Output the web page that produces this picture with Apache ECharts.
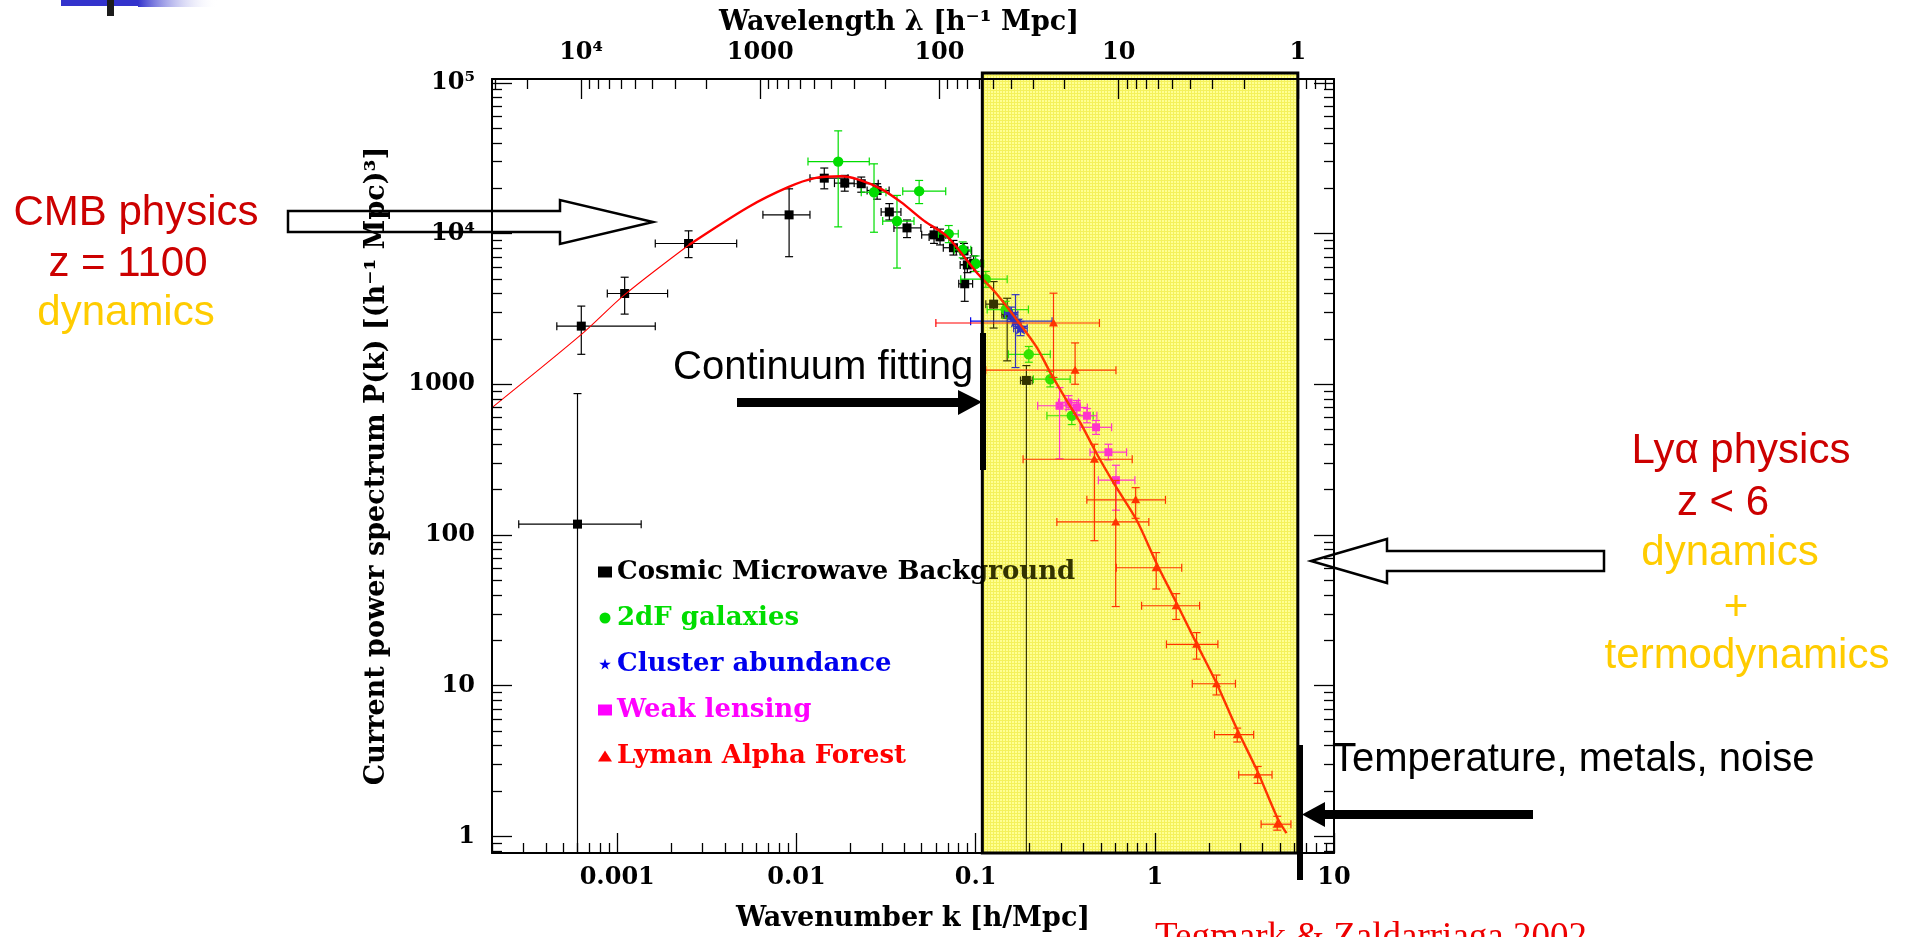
<!DOCTYPE html>
<html>
<head>
<meta charset="utf-8">
<script src="https://cdn.jsdelivr.net/npm/echarts@6/dist/echarts.min.js"></script>
<style>
  html, body { margin: 0; padding: 0; background: #ffffff; }
  #chart { width: 1913px; height: 937px; }
</style>
</head>
<body>
<div id="chart"></div>
<script>
// ---- Axis ranges (k in h/Mpc, P(k) in (h^-1 Mpc)^3) ----
const kRange = [2e-4, 10];
const pRange = [0.776, 1.06e5];

// ---- Tick labels ----
const kMajorTicks = [0.001, 0.01, 0.1, 1, 10];
const kTickLabels = ['0.001', '0.01', '0.1', '1', '10'];
const pMajorTicks = [1, 10, 100, 1000, 1e4, 1e5];
const pTickLabels = ['1', '10', '100', '1000', '10⁴', '10⁵'];
const lambdaMajorTicks = [1e4, 1000, 100, 10, 1];
const lambdaTickLabels = ['10⁴', '1000', '100', '10', '1'];

// ---- Shaded Lyman-alpha range in k ----
const lyaBand = [0.109, 6.283];

// ---- Theory curve ----
const curveK = [2.0e-4, 6.31e-4, 1.10e-3, 2.51e-3, 5.40e-3, 8.99e-3, 0.01264, 0.01774, 0.02203, 0.02965,
  0.03834, 0.05163, 0.06966, 0.1022, 0.1321, 0.1778, 0.2203, 0.2611, 0.3230, 0.3831,
  0.4742, 0.5995, 0.791, 1.022, 1.32, 1.70, 2.20, 2.84, 3.75, 4.84, 5.43];
const curveP = [700, 2140, 3930, 8400, 15000, 20300, 23300, 24000, 22900, 19800,
  16150, 12130, 9510, 5450, 3930, 2490, 1745, 1194, 777, 558,
  346, 214, 125.6, 65, 35.5, 19.3, 10.5, 5.31, 2.68, 1.32, 1.05];

// ---- Measurements: [k, P, kLow, kHigh, PLow, PHigh] (null = below the plotted range) ----
const cmbRows = [
  [6.0e-4, 118, 2.82e-4, 1.36e-3, null, 867],
  [6.3e-4, 2430, 4.6e-4, 1.63e-3, 1580, 3300],
  [1.1e-3, 4000, 8.8e-4, 1.91e-3, 2920, 5130],
  [2.5e-3, 8590, 1.63e-3, 4.64e-3, 6920, 10420],
  [9.1e-3, 13300, 6.5e-3, 0.0119, 7020, 19800],
  [0.0143, 23300, 0.0119, 0.0194, 19800, 27200],
  [0.0186, 21600, 0.0163, 0.0210, 19100, 24300],
  [0.0230, 21400, 0.0190, 0.0286, 18800, 23700],
  [0.0282, 19300, 0.0248, 0.0329, 16900, 21400],
  [0.0330, 13900, 0.0297, 0.0383, 12300, 15800],
  [0.0414, 10900, 0.0350, 0.0495, 9400, 12300],
  [0.0586, 9800, 0.0500, 0.0680, 8600, 11000],
  [0.0633, 9500, 0.0550, 0.0720, 8400, 10700],
  [0.0752, 8050, 0.066, 0.085, 7200, 9000],
  [0.0861, 7660, 0.078, 0.095, 6800, 8600],
  [0.0899, 6190, 0.082, 0.098, 5500, 6900],
  [0.0869, 4640, 0.0805, 0.0962, 3550, 6220],
  [0.0975, 6340, 0.089, 0.107, 5600, 7100],
  [0.126, 3400, 0.114, 0.143, 2360, 4800],
  [0.150, 2900, 0.140, 0.160, 1430, 3720],
  [0.192, 1060, 0.178, 0.207, null, 1330]
];
const galaxyRows = [
  [0.0171, 30000, 0.0116, 0.0255, 11070, 48000],
  [0.0271, 18800, 0.0230, 0.0316, 10200, 29000],
  [0.0364, 12100, 0.0303, 0.0453, 5900, 17900],
  [0.0484, 19100, 0.0392, 0.0681, 15800, 22500],
  [0.0708, 9950, 0.062, 0.080, 8700, 11300],
  [0.0847, 7800, 0.076, 0.094, 6900, 8800],
  [0.100, 6300, 0.090, 0.111, 5600, 7100],
  [0.114, 4980, 0.0826, 0.150, 4400, 5600],
  [0.147, 3130, 0.116, 0.197, 2750, 3550],
  [0.198, 1580, 0.1525, 0.261, 1400, 1780],
  [0.261, 1080, 0.210, 0.337, 960, 1220],
  [0.344, 618, 0.250, 0.453, 540, 700]
];
const clusterRows = [
  [0.167, 2620, 0.0938, 0.267, 1290, 3930],
  [0.158, 2900, 0.145, 0.172, 2600, 3250],
  [0.178, 2350, 0.163, 0.194, 2100, 2600]
];
const lensingRows = [
  [0.294, 720, 0.222, 0.383, 320, 950],
  [0.330, 757, 0.290, 0.375, 680, 840],
  [0.367, 702, 0.320, 0.420, 630, 780],
  [0.418, 618, 0.365, 0.475, 555, 690],
  [0.470, 518, 0.383, 0.574, 465, 575],
  [0.551, 354, 0.435, 0.696, 315, 400],
  [0.607, 231, 0.484, 0.774, 146, 290]
];
const lyaRows = [
  [0.272, 2550, 0.060, 0.491, 1110, 4020],
  [0.359, 1240, 0.114, 0.607, 1000, 1880],
  [0.460, 318, 0.184, 0.748, 91.6, 400],
  [0.605, 122, 0.284, 0.926, 33.5, 230],
  [0.782, 171, 0.4175, 1.147, 129, 206],
  [1.018, 60.6, 0.61, 1.413, 43.8, 76.4],
  [1.316, 33.9, 0.844, 1.778, 27.5, 40.8],
  [1.71, 18.8, 1.161, 2.249, 15.0, 22.5],
  [2.21, 10.3, 1.619, 2.818, 8.68, 11.76],
  [2.884, 4.73, 2.154, 3.562, 4.23, 5.23],
  [3.75, 2.56, 2.94, 4.51, 2.25, 2.91],
  [4.82, 1.205, 3.92, 5.75, 1.10, 1.36]
];

// ---- Helpers ----
const L = Math.log10;
const X_MIN = L(kRange[0]), X_MAX = L(kRange[1]);
const Y_MIN = L(pRange[0]), Y_MAX = L(pRange[1]);
const LOG_2PI = L(2 * Math.PI);

function minorDecades(lo, hi) {
  const out = [];
  for (let n = lo; n <= hi; n++) for (let m = 2; m <= 9; m++) out.push(m * Math.pow(10, n));
  return out;
}
const kMinor = minorDecades(-4, 0).map(L);
const pMinor = minorDecades(-1, 4).map(L);
const lambdaMinor = minorDecades(-1, 4).map(l => LOG_2PI - L(l));
const kMajor = kMajorTicks.map(L);
const pMajor = pMajorTicks.map(L);
const lambdaMajor = lambdaMajorTicks.map(l => LOG_2PI - L(l));

function labelFor(values, labels) {
  return function (v) {
    for (let i = 0; i < values.length; i++) if (Math.abs(values[i] - v) < 1e-6) return labels[i];
    return '';
  };
}

const AXIS_FONT = '"DejaVu Serif", "Liberation Serif", serif';
const SLIDE_FONT = '"Liberation Sans", Arial, sans-serif';
const INK = '#000000';

function axisBase(kind, position, major, ticks, len) {
  const isX = kind === 'x';
  return {
    type: 'value',
    position: position,
    min: isX ? X_MIN : Y_MIN,
    max: isX ? X_MAX : Y_MAX,
    z: 6,
    splitLine: { show: false },
    axisLine: { show: major, onZero: false, lineStyle: { color: INK, width: 2 } },
    axisTick: { show: true, inside: true, length: len, customValues: ticks, lineStyle: { color: INK, width: 1.3 } },
    axisLabel: { show: false }
  };
}

const tickFont = { fontFamily: AXIS_FONT, fontSize: 24, fontWeight: 'bold', color: INK };
const titleFont = { fontFamily: AXIS_FONT, fontSize: 27, fontWeight: 'bold', color: INK };

const xBottom = axisBase('x', 'bottom', true, kMajor, 20);
xBottom.axisLabel = Object.assign({ show: true, customValues: kMajor, formatter: labelFor(kMajor, kTickLabels), margin: 13 }, tickFont);
xBottom.name = 'Wavenumber k [h/Mpc]';
xBottom.nameLocation = 'middle';
xBottom.nameGap = 52;
xBottom.nameTextStyle = Object.assign({}, titleFont);

const xTop = axisBase('x', 'top', true, lambdaMajor, 20);
xTop.axisLabel = Object.assign({ show: true, customValues: lambdaMajor, formatter: labelFor(lambdaMajor, lambdaTickLabels), margin: 14 }, tickFont);
xTop.name = 'Wavelength λ [h⁻¹ Mpc]';
xTop.nameLocation = 'middle';
xTop.nameGap = 42;
xTop.nameTextStyle = Object.assign({ padding: [0, 28, 0, 0] }, titleFont);

const yLeft = axisBase('y', 'left', true, pMajor, 20);
yLeft.axisLabel = Object.assign({ show: true, customValues: pMajor, formatter: labelFor(pMajor, pTickLabels), margin: 17 }, tickFont);
yLeft.name = 'Current power spectrum P(k) [(h⁻¹ Mpc)³]';
yLeft.nameLocation = 'middle';
yLeft.nameRotate = 90;
yLeft.nameGap = 102;
yLeft.nameTextStyle = Object.assign({}, titleFont);

const yRight = axisBase('y', 'right', true, pMajor, 20);

const xAxes = [xBottom, axisBase('x', 'bottom', false, kMinor, 10), xTop, axisBase('x', 'top', false, lambdaMinor, 10)];
const yAxes = [yLeft, axisBase('y', 'left', false, pMinor, 10), yRight, axisBase('y', 'right', false, pMinor, 10)];

// ---- Error-bar + marker drawing ----
function toLogRows(rows) {
  return rows.map(r => [
    L(r[0]), L(r[1]), L(r[2]), L(r[3]),
    r[4] == null ? Y_MIN : L(r[4]),
    r[5] == null ? Y_MAX : L(r[5]),
    r[4] == null ? 0 : 1,
    r[5] == null ? 0 : 1
  ]);
}

function markerShape(kind, cx, cy, color) {
  if (kind === 'square') return { type: 'rect', shape: { x: cx - 4.5, y: cy - 4.5, width: 9, height: 9 }, style: { fill: color } };
  if (kind === 'smallSquare') return { type: 'rect', shape: { x: cx - 4, y: cy - 4, width: 8, height: 8 }, style: { fill: color } };
  if (kind === 'circle') return { type: 'circle', shape: { cx: cx, cy: cy, r: 5.2 }, style: { fill: color } };
  if (kind === 'triangle') return { type: 'polygon', shape: { points: [[cx, cy - 4.5], [cx + 4.5, cy + 3.5], [cx - 4.5, cy + 3.5]] }, style: { fill: color } };
  // five-pointed star
  const pts = [];
  for (let i = 0; i < 10; i++) {
    const r = i % 2 === 0 ? 8 : 3.4;
    const a = -Math.PI / 2 + i * Math.PI / 5;
    pts.push([cx + r * Math.cos(a), cy + r * Math.sin(a)]);
  }
  return { type: 'polygon', shape: { points: pts }, style: { fill: color } };
}

function errorBarRenderer(kind, color) {
  return function (params, api) {
    const c = api.coord([api.value(0), api.value(1)]);
    const xl = api.coord([api.value(2), api.value(1)])[0];
    const xh = api.coord([api.value(3), api.value(1)])[0];
    const yl = api.coord([api.value(0), api.value(4)])[1];
    const yh = api.coord([api.value(0), api.value(5)])[1];
    const cap = 4;
    const st = () => ({ stroke: color, lineWidth: 1.2 });
    const kids = [
      { type: 'line', shape: { x1: xl, y1: c[1], x2: xh, y2: c[1] }, style: st() },
      { type: 'line', shape: { x1: xl, y1: c[1] - cap, x2: xl, y2: c[1] + cap }, style: st() },
      { type: 'line', shape: { x1: xh, y1: c[1] - cap, x2: xh, y2: c[1] + cap }, style: st() },
      { type: 'line', shape: { x1: c[0], y1: yl, x2: c[0], y2: yh }, style: st() }
    ];
    if (api.value(6)) kids.push({ type: 'line', shape: { x1: c[0] - cap, y1: yl, x2: c[0] + cap, y2: yl }, style: st() });
    if (api.value(7)) kids.push({ type: 'line', shape: { x1: c[0] - cap, y1: yh, x2: c[0] + cap, y2: yh }, style: st() });
    kids.push(markerShape(kind, c[0], c[1], color));
    return { type: 'group', children: kids };
  };
}

function measurementSeries(name, rows, kind, color) {
  return {
    name: name, type: 'custom', z: 3, silent: true,
    itemStyle: { color: color },
    encode: { x: 0, y: 1 },
    renderItem: errorBarRenderer(kind, color),
    data: toLogRows(rows)
  };
}

// fine screen texture of the highlighted band
function bandTexture() {
  const c = document.createElement('canvas');
  c.width = 3; c.height = 3;
  const g = c.getContext('2d');
  g.fillStyle = '#ffffb8'; g.fillRect(0, 0, 3, 3);
  g.fillStyle = '#f2ee74'; g.fillRect(0, 0, 3, 1); g.fillRect(0, 0, 1, 3);
  return { image: c, repeat: 'repeat' };
}

function bandRenderer(fill, stroke) {
  return function (params, api) {
    const a = api.coord([api.value(0), Y_MAX]);
    const b = api.coord([api.value(1), Y_MIN]);
    const style = { fill: fill };
    if (stroke) { style.stroke = stroke; style.lineWidth = 3; }
    return { type: 'rect', shape: { x: a[0], y: a[1] - 6, width: b[0] - a[0], height: b[1] - a[1] + 6 }, style: style };
  };
}

const curveData = curveK.map((k, i) => [L(k), L(curveP[i])]);
const bandData = [[L(lyaBand[0]), L(lyaBand[1])]];

const starIcon = 'path://M50,0 L61,35 L98,35 L68,57 L79,91 L50,70 L21,91 L32,57 L2,35 L39,35 Z';
const legendFont = { fontFamily: AXIS_FONT, fontSize: 26, fontWeight: 'bold', lineHeight: 30 };

const chart = echarts.init(document.getElementById('chart'), null, { renderer: 'canvas' });
chart.setOption({
  animation: false,
  backgroundColor: '#ffffff',
  grid: { left: 492, top: 79, width: 842, height: 776, containLabel: false },
  xAxis: xAxes,
  yAxis: yAxes,
  legend: {
    orient: 'vertical', left: 598, top: 557, padding: 0,
    itemWidth: 14, itemHeight: 11, itemGap: 16, selectedMode: false,
    textStyle: legendFont,
    data: [
      { name: 'Cosmic Microwave Background', icon: 'rect', textStyle: Object.assign({ color: '#000000' }, legendFont) },
      { name: '2dF galaxies', icon: 'circle', textStyle: Object.assign({ color: '#00dd00' }, legendFont) },
      { name: 'Cluster abundance', icon: starIcon, textStyle: Object.assign({ color: '#0000ee' }, legendFont) },
      { name: 'Weak lensing', icon: 'rect', textStyle: Object.assign({ color: '#ff00ff' }, legendFont) },
      { name: 'Lyman Alpha Forest', icon: 'triangle', textStyle: Object.assign({ color: '#ff0000' }, legendFont) }
    ]
  },
  series: [
    { type: 'custom', z: 1, silent: true, encode: { x: 0, y: 1 }, renderItem: bandRenderer(bandTexture(), null), data: bandData },
    { type: 'line', z: 3, silent: true, symbol: 'none', smooth: 0.3, lineStyle: { color: '#ff0000', width: 1.1 }, data: curveData.slice(0, 4) },
    { type: 'line', z: 3, silent: true, symbol: 'none', smooth: 0.3, lineStyle: { color: '#ff0000', width: 2.4 }, data: curveData.slice(3) },
    measurementSeries('Cosmic Microwave Background', cmbRows, 'square', '#000000'),
    measurementSeries('2dF galaxies', galaxyRows, 'circle', '#00dd00'),
    measurementSeries('Cluster abundance', clusterRows, 'star', '#0000ee'),
    measurementSeries('Weak lensing', lensingRows, 'smallSquare', '#ff00ff'),
    measurementSeries('Lyman Alpha Forest', lyaRows, 'triangle', '#ff0000'),
    { type: 'custom', z: 5, silent: true, encode: { x: 0, y: 1 }, renderItem: bandRenderer('rgba(255,255,0,0.2)', '#000000'), data: bandData }
  ],
  graphic: [
    // slide corner ornament
    { type: 'rect', z: 100, shape: { x: 61, y: 0, width: 77, height: 6 }, style: { fill: '#3333cc' } },
    { type: 'rect', z: 100, shape: { x: 138, y: 0, width: 80, height: 7 },
      style: { fill: new echarts.graphic.LinearGradient(0, 0, 1, 0, [{ offset: 0, color: '#3333cc' }, { offset: 1, color: 'rgba(255,255,255,0)' }]) } },
    { type: 'rect', z: 100, shape: { x: 107, y: 0, width: 7, height: 16 }, style: { fill: '#1c1c1c' } },

    // hollow arrows
    { type: 'polygon', z: 100, shape: { points: [[288, 211], [560, 211], [560, 200], [653, 222], [560, 244], [560, 232], [288, 232]] },
      style: { fill: 'rgba(0,0,0,0)', stroke: '#000000', lineWidth: 2.5 } },
    { type: 'polygon', z: 100, shape: { points: [[1604, 551], [1387, 551], [1387, 539], [1311, 561], [1387, 583], [1387, 571], [1604, 571]] },
      style: { fill: 'rgba(0,0,0,0)', stroke: '#000000', lineWidth: 2.5 } },

    // solid arrows and bars
    { type: 'polygon', z: 100, shape: { points: [[737, 398], [958, 398], [958, 390], [982, 402], [958, 415], [958, 407], [737, 407]] }, style: { fill: '#000000' } },
    { type: 'rect', z: 100, shape: { x: 980, y: 333, width: 6, height: 137 }, style: { fill: '#000000' } },
    { type: 'polygon', z: 100, shape: { points: [[1533, 810], [1325, 810], [1325, 802], [1302, 814.5], [1325, 827], [1325, 819], [1533, 819]] }, style: { fill: '#000000' } },
    { type: 'rect', z: 100, shape: { x: 1297, y: 745, width: 6, height: 135 }, style: { fill: '#000000' } },

    // annotations
    { type: 'text', z: 100, x: 136, y: 213, style: { text: 'CMB physics', font: '42px ' + SLIDE_FONT, fill: '#cc0000', align: 'center', verticalAlign: 'middle' } },
    { type: 'text', z: 100, x: 128, y: 264, style: { text: 'z = 1100', font: '42px ' + SLIDE_FONT, fill: '#cc0000', align: 'center', verticalAlign: 'middle' } },
    { type: 'text', z: 100, x: 126, y: 313, style: { text: 'dynamics', font: '42px ' + SLIDE_FONT, fill: '#ffcc00', align: 'center', verticalAlign: 'middle' } },
    { type: 'text', z: 100, x: 1741, y: 451, style: { text: 'Lyα physics', font: '42px ' + SLIDE_FONT, fill: '#cc0000', align: 'center', verticalAlign: 'middle' } },
    { type: 'text', z: 100, x: 1723, y: 503, style: { text: 'z < 6', font: '42px ' + SLIDE_FONT, fill: '#cc0000', align: 'center', verticalAlign: 'middle' } },
    { type: 'text', z: 100, x: 1730, y: 553, style: { text: 'dynamics', font: '42px ' + SLIDE_FONT, fill: '#ffcc00', align: 'center', verticalAlign: 'middle' } },
    { type: 'text', z: 100, x: 1736, y: 608, style: { text: '+', font: '42px ' + SLIDE_FONT, fill: '#ffcc00', align: 'center', verticalAlign: 'middle' } },
    { type: 'text', z: 100, x: 1747, y: 656, style: { text: 'termodynamics', font: '42px ' + SLIDE_FONT, fill: '#ffcc00', align: 'center', verticalAlign: 'middle' } },
    { type: 'text', z: 100, x: 673, y: 368, style: { text: 'Continuum fitting', font: '40px ' + SLIDE_FONT, fill: '#000000', align: 'left', verticalAlign: 'middle' } },
    { type: 'text', z: 100, x: 1332, y: 760, style: { text: 'Temperature, metals, noise', font: '40px ' + SLIDE_FONT, fill: '#000000', align: 'left', verticalAlign: 'middle' } },
    { type: 'text', z: 100, x: 1155, y: 920, style: { text: 'Tegmark & Zaldarriaga 2002', font: '37px "Liberation Serif", "Times New Roman", serif', fill: '#ee0000', align: 'left', verticalAlign: 'top' } }
  ]
});
</script>
</body>
</html>
